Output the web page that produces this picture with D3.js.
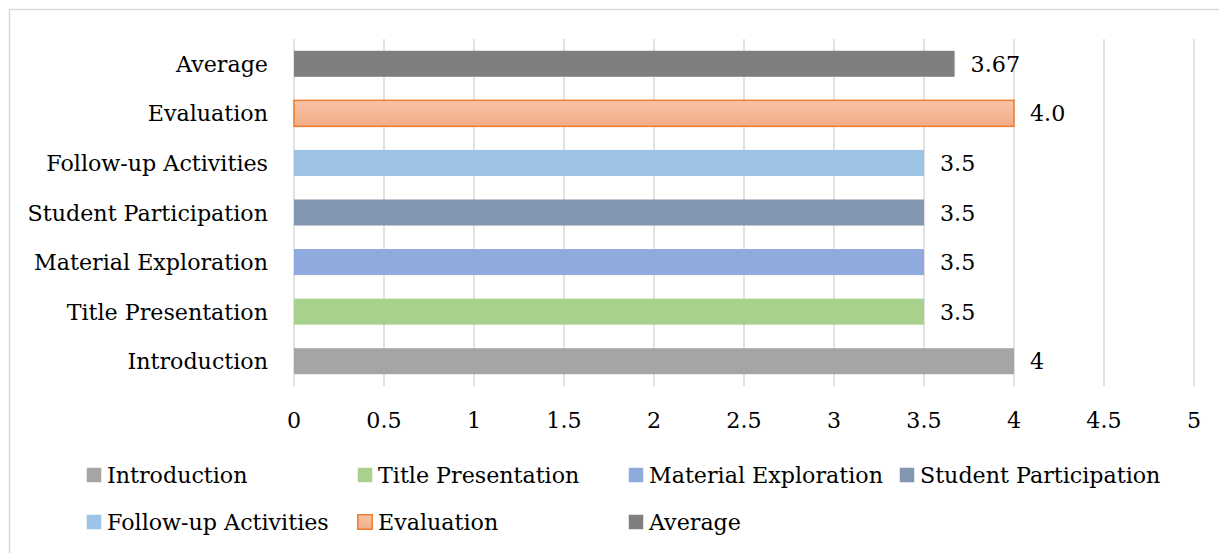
<!DOCTYPE html>
<html lang="en">
<head>
<meta charset="UTF-8">
<title>Lesson stages</title>
<script src="https://d3js.org/d3.v7.min.js"></script>
<style>
  html, body { margin: 0; padding: 0; background: #fff; }
  svg text { font-family: "DejaVu Serif", serif; fill: #000; }
</style>
</head>
<body>
<div id="chart"></div>
<script>
// chart data
const categories = ["Introduction", "Title Presentation", "Material Exploration",
  "Student Participation", "Follow-up Activities", "Evaluation", "Average"];
const values = [4, 3.5, 3.5, 3.5, 3.5, 4.0, 3.67];
const valueLabels = ["4", "3.5", "3.5", "3.5", "3.5", "4.0", "3.67"];
const xTicks = [0, 0.5, 1, 1.5, 2, 2.5, 3, 3.5, 4, 4.5, 5];
const colors = ["#A5A5A5", "#A9D18E", "#8FAADC", "#8497B0", "#9DC3E6", "url(#evalGrad)", "#7F7F7F"];
const strokes = [null, null, null, null, null, "#ED7D31", null];

const width = 1219, height = 553;
const fontSize = 22.2;

const svg = d3.select("#chart").append("svg")
  .attr("width", width).attr("height", height);

const grad = svg.append("defs").append("linearGradient")
  .attr("id", "evalGrad").attr("x1", 0).attr("y1", 0).attr("x2", 0).attr("y2", 1);
grad.append("stop").attr("offset", "0%").attr("stop-color", "#F8C3A6");
grad.append("stop").attr("offset", "100%").attr("stop-color", "#F4AC87");

// outer frame (runs off right/bottom edge like the original)
svg.append("rect")
  .attr("x", 9.5).attr("y", 9.5).attr("width", 1240).attr("height", 580)
  .attr("fill", "none").attr("stroke", "#D9D9D9").attr("stroke-width", 1.5);

const x = d3.scaleLinear().domain([0, 5]).range([294, 1194]);
const y = d3.scaleBand().domain(categories.slice().reverse())
  .range([39, 386]).paddingInner(0.475).paddingOuter(0.2375);

// gridlines
svg.append("g").selectAll("line").data(xTicks).join("line")
  .attr("x1", d => x(d)).attr("x2", d => x(d))
  .attr("y1", 39).attr("y2", 386)
  .attr("stroke", "#D9D9D9").attr("stroke-width", 1.5);

// x tick labels
svg.append("g").selectAll("text").data(xTicks).join("text")
  .attr("x", d => x(d)).attr("y", 420)
  .attr("text-anchor", "middle").attr("dominant-baseline", "central")
  .style("font-size", fontSize + "px")
  .text(d => d);

// bars
svg.append("g").selectAll("rect").data(categories).join("rect")
  .attr("x", x(0))
  .attr("y", d => y(d))
  .attr("width", (d, i) => x(values[i]) - x(0))
  .attr("height", y.bandwidth())
  .attr("fill", (d, i) => colors[i])
  .attr("stroke", (d, i) => strokes[i] || "none")
  .attr("stroke-width", 1.5);

// category labels
svg.append("g").selectAll("text").data(categories).join("text")
  .attr("x", 268).attr("y", d => y(d) + y.bandwidth() / 2)
  .attr("text-anchor", "end").attr("dominant-baseline", "central")
  .style("font-size", fontSize + "px")
  .text(d => d);

// value labels
svg.append("g").selectAll("text").data(categories).join("text")
  .attr("x", (d, i) => x(values[i]) + 16)
  .attr("y", d => y(d) + y.bandwidth() / 2)
  .attr("dominant-baseline", "central")
  .style("font-size", fontSize + "px")
  .text((d, i) => valueLabels[i]);

// legend, 4 columns
const colW = 271, legX = 86;
const leg = svg.append("g").selectAll("g").data(categories).join("g")
  .attr("transform", (d, i) => `translate(${legX + (i % 4) * colW},${i < 4 ? 475 : 522})`);
leg.append("rect")
  .attr("x", 0.75).attr("y", -7.25).attr("width", 14.5).attr("height", 14.5)
  .attr("fill", (d, i) => colors[i])
  .attr("stroke", (d, i) => strokes[i] || "none").attr("stroke-width", 1.5);
leg.append("text")
  .attr("x", 21).attr("dominant-baseline", "central")
  .style("font-size", fontSize + "px")
  .text(d => d);
</script>
</body>
</html>
